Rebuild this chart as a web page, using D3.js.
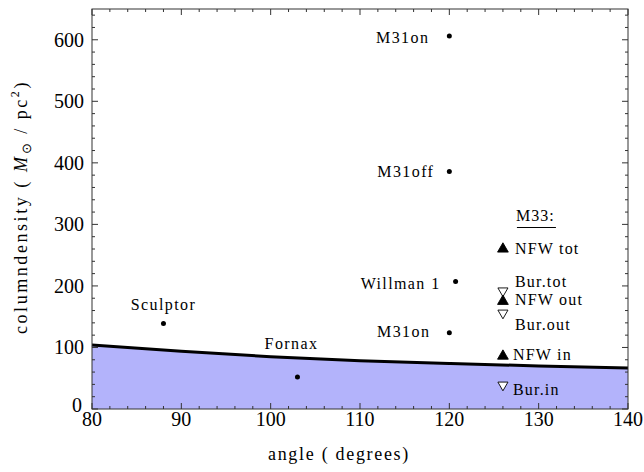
<!DOCTYPE html>
<html>
<head>
<meta charset="utf-8">
<script src="https://cdn.jsdelivr.net/npm/d3@7"></script>
<style>
  body { margin: 0; background: #fff; }
</style>
</head>
<body>
<div id="chart"></div>
<script>
const width = 644;
const height = 472;
const margin = { top: 9, right: 16, bottom: 63, left: 92 };

const curveAngles = [80, 90, 100, 110, 120, 130, 140];
const curveDensity = [104, 94, 85, 78.5, 74, 70, 66.5];

// dwarf galaxies / M31 points
const pointNames = ["M31on", "M31off", "Willman 1", "M31on ", "Sculptor", "Fornax"];
const pointAngles = [120, 120, 120.7, 120, 88, 103];
const pointDensity = [606, 386, 207, 124, 139, 52];

// M33 estimates
const m33Names = ["NFW tot", "Bur. tot", "NFW out", "Bur. out", "NFW in", "Bur. in"];
const m33Kinds = ["nfw", "bur", "nfw", "bur", "nfw", "bur"];
const m33Angle = 126;
const m33Density = [260, 192, 175, 156, 86, 39];

const xTicks = [80, 90, 100, 110, 120, 130, 140];
const yTicks = [0, 100, 200, 300, 400, 500, 600];

const svg = d3.select("#chart").append("svg")
  .attr("width", width)
  .attr("height", height)
  .attr("font-family", "Liberation Serif");

const x = d3.scaleLinear()
  .domain([80, 140])
  .range([margin.left, width - margin.right]);

const y = d3.scaleLinear()
  .domain([0, 650])
  .range([height - margin.bottom, margin.top]);

// stretch letter spacing so a title covers a given length
function fitText(sel, target) {
  const node = sel.node();
  const natural = node.getComputedTextLength();
  const n = node.textContent.length;
  sel.attr("letter-spacing", ((target - natural) / n) + "px");
}

const curveData = curveAngles.map((a, i) => ({ a, v: curveDensity[i] }));

// shaded region under the curve
svg.append("path")
  .datum(curveData)
  .attr("fill", "#b3b3fb")
  .attr("d", d3.area().x(d => x(d.a)).y0(y(0)).y1(d => y(d.v)).curve(d3.curveNatural));

svg.append("path")
  .datum(curveData)
  .attr("fill", "none")
  .attr("stroke", "#000")
  .attr("stroke-width", 3)
  .attr("d", d3.line().x(d => x(d.a)).y(d => y(d.v)).curve(d3.curveNatural));

// frame with inward ticks on all sides
const frame = svg.append("g").attr("stroke", "#333").attr("stroke-width", 1);
frame.append("rect")
  .attr("x", x(80)).attr("y", y(650))
  .attr("width", x(140) - x(80)).attr("height", y(0) - y(650))
  .attr("fill", "none");

const xMinor = d3.range(80, 141, 2);
const yMinor = d3.range(0, 651, 20);

xMinor.forEach(t => {
  const len = t % 10 === 0 ? 6 : 3;
  frame.append("line").attr("x1", x(t)).attr("x2", x(t)).attr("y1", y(0)).attr("y2", y(0) - len);
  frame.append("line").attr("x1", x(t)).attr("x2", x(t)).attr("y1", y(650)).attr("y2", y(650) + len);
});
yMinor.forEach(t => {
  const len = t % 100 === 0 ? 6 : 3;
  frame.append("line").attr("y1", y(t)).attr("y2", y(t)).attr("x1", x(80)).attr("x2", x(80) + len);
  frame.append("line").attr("y1", y(t)).attr("y2", y(t)).attr("x1", x(140)).attr("x2", x(140) - len);
});

// tick labels
svg.append("g").selectAll("text")
  .data(xTicks)
  .join("text")
  .attr("x", d => x(d))
  .attr("y", y(0) + 17)
  .attr("text-anchor", "middle")
  .attr("font-size", "20px")
  .text(d => d);

svg.append("g").selectAll("text")
  .data(yTicks)
  .join("text")
  .attr("x", d => x(80) - (d === 0 ? 10 : 8))
  .attr("y", d => y(d) + (d === 0 ? 3 : 7))
  .attr("text-anchor", "end")
  .attr("font-size", "20px")
  .text(d => d);

// axis titles
const xl = svg.append("text")
  .attr("x", 339)
  .attr("y", 460)
  .attr("text-anchor", "middle")
  .attr("font-size", "18px")
  .text("angle ( degrees)");
fitText(xl, 142);

const yl = svg.append("text")
  .attr("transform", "translate(27,207) rotate(-90)")
  .attr("text-anchor", "middle")
  .attr("font-size", "18px");
yl.append("tspan").text("columndensity ( ");
yl.append("tspan").attr("font-style", "italic").text("M");
yl.append("tspan").attr("font-size", "13px").attr("dy", 4).text("\u2299");
yl.append("tspan").attr("dy", -4).text(" / pc");
yl.append("tspan").attr("font-size", "12px").attr("dy", -8).text("2");
yl.append("tspan").attr("dy", 8).text(")");
fitText(yl, 254);

// points and their labels
const labelPlace = {
  "M31on": { dx: -20, dy: 7, anchor: "end" },
  "M31off": { dx: -15, dy: 6, anchor: "end" },
  "Willman 1": { dx: -15, dy: 7, anchor: "end" },
  "M31on ": { dx: -19, dy: 4.5, anchor: "end" },
  "Sculptor": { dx: 0, dy: -13, anchor: "middle" },
  "Fornax": { dx: -6, dy: -28, anchor: "middle" }
};

const points = pointNames.map((n, i) => ({ n, a: pointAngles[i], v: pointDensity[i] }));

svg.append("g").selectAll("circle")
  .data(points)
  .join("circle")
  .attr("cx", d => x(d.a))
  .attr("cy", d => y(d.v))
  .attr("r", 2.5)
  .attr("fill", "#000");

svg.append("g").selectAll("text")
  .data(points)
  .join("text")
  .attr("x", d => x(d.a) + labelPlace[d.n].dx)
  .attr("y", d => y(d.v) + labelPlace[d.n].dy)
  .attr("text-anchor", d => labelPlace[d.n].anchor)
  .attr("font-size", "16px")
  .attr("letter-spacing", "1.4px")
  .text(d => d.n.trim());

// M33 group
const m33 = m33Names.map((n, i) => ({ n, kind: m33Kinds[i], v: m33Density[i] }));
const triUp = d3.symbol(d3.symbolTriangle, 50);
const triDown = d3.symbol(d3.symbolTriangle, 44);

svg.append("g").selectAll("path")
  .data(m33)
  .join("path")
  .attr("d", d => d.kind === "bur" ? triDown() : triUp())
  .attr("transform", d => `translate(${x(m33Angle)},${y(d.v)}) rotate(${d.kind === "bur" ? 180 : 0})`)
  .attr("fill", d => d.kind === "bur" ? "#fff" : "#000")
  .attr("stroke", "#000")
  .attr("stroke-width", 0.9);

const m33Label = {
  "NFW tot": { dx: 12, dy: 4.5 },
  "Bur. tot": { dx: 12, dy: -3.5 },
  "NFW out": { dx: 12, dy: 4 },
  "Bur. out": { dx: 12, dy: 17 },
  "NFW in": { dx: 10, dy: 4 },
  "Bur. in": { dx: 10, dy: 9.5 }
};

svg.append("g").selectAll("text")
  .data(m33)
  .join("text")
  .attr("x", d => x(m33Angle) + m33Label[d.n].dx)
  .attr("y", d => y(d.v) + m33Label[d.n].dy)
  .attr("font-size", "16px")
  .attr("letter-spacing", "1.2px")
  .text(d => d.n.replace(". ", "."));

svg.append("text")
  .attr("x", x(m33Angle) + 13)
  .attr("y", 221)
  .attr("font-size", "16px")
  .attr("letter-spacing", "1px")
  .text("M33:");

svg.append("line")
  .attr("x1", x(m33Angle) + 14).attr("x2", x(m33Angle) + 53)
  .attr("y1", 227.5).attr("y2", 227.5)
  .attr("stroke", "#000");
</script>
</body>
</html>
